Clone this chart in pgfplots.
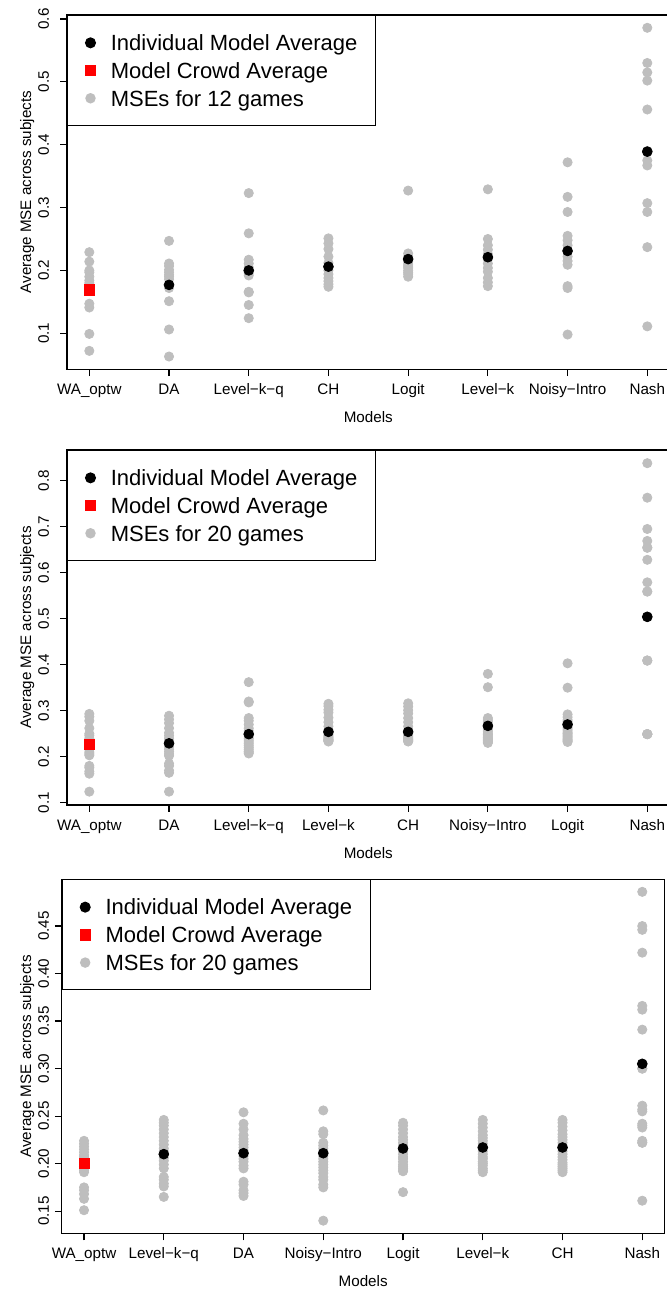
\documentclass[border=0pt]{standalone}
\usepackage{fontspec}
\setmainfont{Liberation Sans}
\usepackage{pgfplots}
\usepackage{pgfplotstable}
\pgfplotsset{compat=1.18}
\definecolor{rgray}{HTML}{BEBEBE}
\definecolor{rred}{HTML}{FF0000}

% panel 1 (12 games): 1 WA_optw, 2 DA, 3 Level-k-q, 4 CH, 5 Logit, 6 Level-k, 7 Noisy-Intro, 8 Nash
\pgfplotstableread[row sep=\\]{x y\\
1 0.229\\1 0.214\\1 0.200\\1 0.197\\1 0.190\\1 0.184\\1 0.180\\1 0.175\\1 0.147\\1 0.141\\1 0.099\\1 0.072\\
2 0.247\\2 0.211\\2 0.207\\2 0.201\\2 0.197\\2 0.193\\2 0.190\\2 0.186\\2 0.172\\2 0.151\\2 0.106\\2 0.063\\
3 0.323\\3 0.259\\3 0.217\\3 0.211\\3 0.205\\3 0.198\\3 0.196\\3 0.192\\3 0.166\\3 0.165\\3 0.145\\3 0.124\\
4 0.251\\4 0.243\\4 0.234\\4 0.222\\4 0.212\\4 0.205\\4 0.200\\4 0.194\\4 0.188\\4 0.183\\4 0.178\\4 0.174\\
5 0.327\\5 0.227\\5 0.222\\5 0.218\\5 0.214\\5 0.210\\5 0.207\\5 0.204\\5 0.200\\5 0.197\\5 0.194\\5 0.190\\
6 0.329\\6 0.250\\6 0.240\\6 0.233\\6 0.226\\6 0.218\\6 0.211\\6 0.204\\6 0.198\\6 0.188\\6 0.181\\6 0.175\\
7 0.372\\7 0.317\\7 0.293\\7 0.255\\7 0.248\\7 0.240\\7 0.222\\7 0.215\\7 0.209\\7 0.175\\7 0.172\\7 0.098\\
8 0.586\\8 0.530\\8 0.515\\8 0.502\\8 0.456\\8 0.390\\8 0.375\\8 0.367\\8 0.307\\8 0.293\\8 0.237\\8 0.111\\
}\grayA

% panel 2 (20 games): 1 WA_optw, 2 DA, 3 Level-k-q, 4 Level-k, 5 CH, 6 Noisy-Intro, 7 Logit, 8 Nash
\pgfplotstableread[row sep=\\]{x y\\
1 0.293\\1 0.287\\1 0.278\\1 0.262\\1 0.250\\1 0.246\\1 0.240\\1 0.235\\1 0.230\\1 0.225\\1 0.221\\1 0.216\\1 0.210\\1 0.206\\1 0.203\\1 0.180\\1 0.176\\1 0.168\\1 0.163\\1 0.124\\
2 0.289\\2 0.281\\2 0.273\\2 0.262\\2 0.252\\2 0.246\\2 0.240\\2 0.235\\2 0.230\\2 0.226\\2 0.222\\2 0.216\\2 0.211\\2 0.206\\2 0.202\\2 0.185\\2 0.180\\2 0.170\\2 0.165\\2 0.124\\
3 0.362\\3 0.320\\3 0.318\\3 0.284\\3 0.278\\3 0.270\\3 0.262\\3 0.256\\3 0.250\\3 0.245\\3 0.240\\3 0.236\\3 0.232\\3 0.228\\3 0.224\\3 0.220\\3 0.216\\3 0.212\\3 0.210\\3 0.207\\
4 0.315\\4 0.310\\4 0.302\\4 0.296\\4 0.285\\4 0.275\\4 0.266\\4 0.258\\4 0.254\\4 0.250\\4 0.247\\4 0.244\\4 0.242\\4 0.240\\4 0.238\\4 0.237\\4 0.236\\4 0.235\\4 0.234\\4 0.233\\
5 0.316\\5 0.309\\5 0.301\\5 0.294\\5 0.284\\5 0.275\\5 0.266\\5 0.258\\5 0.254\\5 0.250\\5 0.247\\5 0.244\\5 0.242\\5 0.240\\5 0.238\\5 0.237\\5 0.236\\5 0.235\\5 0.234\\5 0.233\\
6 0.380\\6 0.351\\6 0.284\\6 0.280\\6 0.276\\6 0.270\\6 0.265\\6 0.262\\6 0.258\\6 0.254\\6 0.250\\6 0.248\\6 0.245\\6 0.242\\6 0.240\\6 0.238\\6 0.236\\6 0.234\\6 0.232\\6 0.230\\
7 0.403\\7 0.350\\7 0.292\\7 0.286\\7 0.280\\7 0.276\\7 0.272\\7 0.268\\7 0.264\\7 0.260\\7 0.256\\7 0.252\\7 0.250\\7 0.247\\7 0.244\\7 0.241\\7 0.238\\7 0.236\\7 0.234\\7 0.232\\
8 0.838\\8 0.763\\8 0.695\\8 0.669\\8 0.654\\8 0.655\\8 0.628\\8 0.579\\8 0.559\\8 0.559\\8 0.504\\8 0.504\\8 0.409\\8 0.409\\8 0.409\\8 0.249\\8 0.249\\8 0.249\\8 0.249\\8 0.249\\
}\grayB

% panel 3 (20 games): 1 WA_optw, 2 Level-k-q, 3 DA, 4 Noisy-Intro, 5 Logit, 6 Level-k, 7 CH, 8 Nash
\pgfplotstableread[row sep=\\]{x y\\
1 0.224\\1 0.221\\1 0.218\\1 0.215\\1 0.212\\1 0.209\\1 0.207\\1 0.205\\1 0.203\\1 0.201\\1 0.199\\1 0.197\\1 0.195\\1 0.193\\1 0.191\\1 0.175\\1 0.172\\1 0.168\\1 0.163\\1 0.151\\
2 0.246\\2 0.243\\2 0.240\\2 0.236\\2 0.232\\2 0.228\\2 0.224\\2 0.220\\2 0.216\\2 0.213\\2 0.210\\2 0.206\\2 0.203\\2 0.199\\2 0.195\\2 0.186\\2 0.183\\2 0.179\\2 0.176\\2 0.165\\
3 0.254\\3 0.242\\3 0.236\\3 0.230\\3 0.226\\3 0.223\\3 0.220\\3 0.217\\3 0.214\\3 0.211\\3 0.208\\3 0.205\\3 0.202\\3 0.198\\3 0.195\\3 0.181\\3 0.178\\3 0.172\\3 0.169\\3 0.166\\
4 0.256\\4 0.234\\4 0.231\\4 0.222\\4 0.219\\4 0.216\\4 0.213\\4 0.211\\4 0.208\\4 0.205\\4 0.202\\4 0.199\\4 0.196\\4 0.193\\4 0.190\\4 0.186\\4 0.183\\4 0.178\\4 0.175\\4 0.140\\
5 0.243\\5 0.240\\5 0.236\\5 0.232\\5 0.228\\5 0.225\\5 0.222\\5 0.219\\5 0.216\\5 0.213\\5 0.210\\5 0.207\\5 0.205\\5 0.202\\5 0.199\\5 0.197\\5 0.195\\5 0.193\\5 0.192\\5 0.170\\
6 0.246\\6 0.242\\6 0.238\\6 0.234\\6 0.230\\6 0.227\\6 0.224\\6 0.221\\6 0.218\\6 0.216\\6 0.213\\6 0.210\\6 0.207\\6 0.205\\6 0.202\\6 0.200\\6 0.198\\6 0.195\\6 0.193\\6 0.191\\
7 0.246\\7 0.243\\7 0.239\\7 0.235\\7 0.231\\7 0.228\\7 0.225\\7 0.222\\7 0.219\\7 0.216\\7 0.213\\7 0.210\\7 0.207\\7 0.204\\7 0.201\\7 0.199\\7 0.197\\7 0.195\\7 0.193\\7 0.191\\
8 0.486\\8 0.450\\8 0.446\\8 0.422\\8 0.366\\8 0.362\\8 0.341\\8 0.305\\8 0.300\\8 0.300\\8 0.261\\8 0.257\\8 0.255\\8 0.242\\8 0.240\\8 0.238\\8 0.224\\8 0.222\\8 0.222\\8 0.161\\
}\grayC

\newcommand{\lblfont}{\fontsize{7.6}{9}\selectfont}
\pgfplotsset{
  rstyle/.style={
    scale only axis,
    axis line style={line width=0.6pt},
    xmin=0.72, xmax=8.28,
    xtick={1,2,3,4,5,6,7,8},
    xtick pos=bottom, ytick pos=left,
    tick align=outside,
    major tick length=3.4pt,
    every tick/.style={black, line width=0.6pt},
    tick label style={font=\lblfont},
    /pgf/number format/assume math mode=true,
    xticklabel style={anchor=base, inner sep=0pt, yshift=-9.25pt},
    every axis x label/.style={at={(axis description cs:0.5,0)}, anchor=base, inner sep=0pt, yshift=-26.6pt, font=\lblfont},
    xlabel={Models},
    ylabel={Average MSE across subjects},
    legend cell align=left,
    legend style={at={(0,1)}, anchor=north west, draw=black, line width=0.6pt, fill=white,
      inner xsep=0pt, inner ysep=6.7pt, row sep=0pt,
      font=\fontsize{11}{13}\selectfont,
      nodes={inner sep=0pt, text height=10.83pt, text depth=3.03pt}},
    legend image code/.code={\path (-11.15pt,0pt) (9.85pt,0pt); \draw[##1] plot coordinates {(0pt,0pt)};},
  },
  gstyle/.style={only marks, mark=*, mark size=2.3pt, color=rgray},
  bstyle/.style={only marks, mark=*, mark size=2.45pt, color=black},
  rsq/.style={only marks, mark=square*, mark size=2.55pt, color=rred},
}

\begin{document}
\begin{tikzpicture}
\path[use as bounding box] (0,0) rectangle (333pt,644.5pt);

% ---------- panel 1 ----------
\begin{axis}[rstyle, at={(33.5pt,459.85pt)}, anchor=south west,
  width=301.3pt, height=177.15pt, ymin=0.0427, ymax=0.6064,
  ytick={0.1,0.2,0.3,0.4,0.5,0.6},
  yticklabel style={/pgf/number format/fixed, /pgf/number format/fixed zerofill, /pgf/number format/precision=1,
     xshift=-5.45pt, rotate=90, anchor=south, inner sep=0pt},
  every axis y label/.style={at={(axis description cs:0,0.5)}, xshift=-18pt, rotate=90, anchor=base, inner sep=0pt, font=\lblfont},
  xticklabels={WA\_optw,DA,Level−k−q,CH,Logit,Level−k,Noisy−Intro,Nash}]
\addplot[gstyle, forget plot] table {\grayA};
\addplot[bstyle] coordinates {(2,0.177) (3,0.200) (4,0.206) (5,0.218) (6,0.221) (7,0.231) (8,0.389)};
\addplot[rsq] coordinates {(1,0.169)};
\addlegendimage{gstyle}
\legend{\makebox[132.5pt][l]{Individual Model Average},\makebox[132.5pt][l]{Model Crowd Average},\makebox[132.5pt][l]{MSEs for 12 games}}
\end{axis}

% ---------- panel 2 ----------
\begin{axis}[rstyle, at={(33.5pt,242pt)}, anchor=south west,
  width=301.3pt, height=177.5pt, ymin=0.095, ymax=0.8667,
  ytick={0.1,0.2,0.3,0.4,0.5,0.6,0.7,0.8},
  yticklabel style={/pgf/number format/fixed, /pgf/number format/fixed zerofill, /pgf/number format/precision=1,
     xshift=-5.45pt, rotate=90, anchor=south, inner sep=0pt},
  every axis y label/.style={at={(axis description cs:0,0.5)}, xshift=-18pt, rotate=90, anchor=base, inner sep=0pt, font=\lblfont},
  xticklabels={WA\_optw,DA,Level−k−q,Level−k,CH,Noisy−Intro,Logit,Nash}]
\addplot[gstyle, forget plot] table {\grayB};
\addplot[bstyle] coordinates {(2,0.229) (3,0.249) (4,0.254) (5,0.254) (6,0.267) (7,0.270) (8,0.504)};
\addplot[rsq] coordinates {(1,0.227)};
\addlegendimage{gstyle}
\legend{\makebox[132.5pt][l]{Individual Model Average},\makebox[132.5pt][l]{Model Crowd Average},\makebox[132.5pt][l]{MSEs for 20 games}}
\end{axis}

% ---------- panel 3 ----------
\begin{axis}[rstyle, at={(30.85pt,27.75pt)}, anchor=south west,
  width=301.45pt, height=177.1pt, ymin=0.1265, ymax=0.4992,
  ytick={0.15,0.20,0.25,0.30,0.35,0.40,0.45},
  yticklabel style={/pgf/number format/fixed, /pgf/number format/fixed zerofill, /pgf/number format/precision=2,
     xshift=-2.8pt, rotate=90, anchor=south, inner sep=0pt},
  every axis y label/.style={at={(axis description cs:0,0.5)}, xshift=-15.35pt, rotate=90, anchor=base, inner sep=0pt, font=\lblfont},
  xticklabels={WA\_optw,Level−k−q,DA,Noisy−Intro,Logit,Level−k,CH,Nash}]
\addplot[gstyle, forget plot] table {\grayC};
\addplot[bstyle] coordinates {(2,0.210) (3,0.211) (4,0.211) (5,0.216) (6,0.217) (7,0.217) (8,0.305)};
\addplot[rsq] coordinates {(1,0.200)};
\addlegendimage{gstyle}
\legend{\makebox[132.5pt][l]{Individual Model Average},\makebox[132.5pt][l]{Model Crowd Average},\makebox[132.5pt][l]{MSEs for 20 games}}
\end{axis}
\end{tikzpicture}
\end{document}
